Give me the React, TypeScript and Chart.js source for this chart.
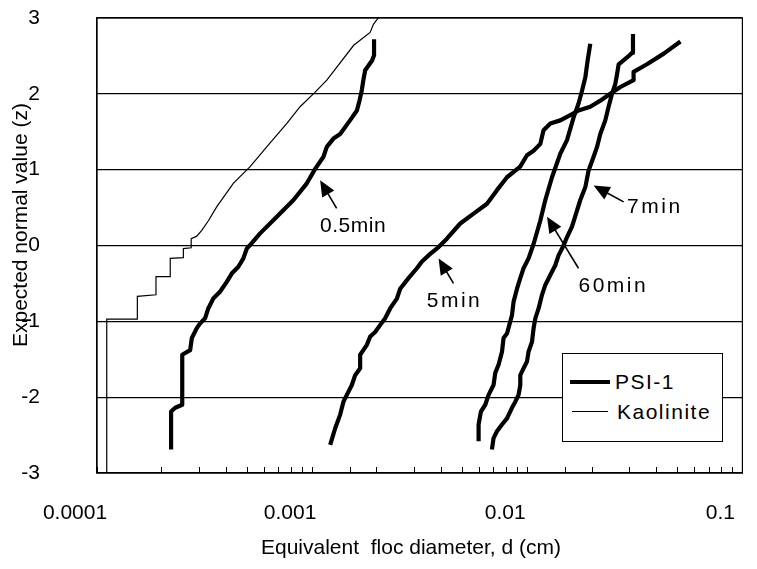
import React, { useEffect, useRef } from "react";
import { Chart, registerables } from "chart.js";

Chart.register(...registerables);

const FONT = "'Liberation Sans', Arial, Helvetica, sans-serif";

// Decade labels of the logarithmic diameter axis, starting at 1e-4 cm
const xTickLabels = ["0.0001", "0.001", "0.01", "0.1"];
const X_MIN = 1e-4;
const X_MAX = 0.1;
const Y_MIN = -3;
const Y_MAX = 3;

const legendLabels = ["PSI-1", "Kaolinite"];

// [equivalent floc diameter d (cm), expected normal value z]
const kaolinite: [number, number][] = [
  [1.11e-4, -2.99], [1.11e-4, -0.97], [1.54e-4, -0.97], [1.54e-4, -0.67],
  [1.88e-4, -0.65], [1.88e-4, -0.41], [2.19e-4, -0.41], [2.19e-4, -0.17],
  [2.52e-4, -0.16], [2.52e-4, -0.04], [2.74e-4, -0.03], [2.74e-4, 0.09],
  [2.9e-4, 0.12], [3.07e-4, 0.2], [3.3e-4, 0.33], [3.6e-4, 0.51],
  [4.3e-4, 0.82], [5.15e-4, 1.04], [6.15e-4, 1.3], [7.63e-4, 1.61],
  [8.79e-4, 1.83], [1.03e-3, 2.02], [1.17e-3, 2.18], [1.3e-3, 2.35],
  [1.56e-3, 2.64], [1.86e-3, 2.81], [1.93e-3, 2.92], [2.03e-3, 3.0],
];

const psi05min: [number, number][] = [
  [2.21e-4, -2.69], [2.21e-4, -2.19], [2.31e-4, -2.14], [2.49e-4, -2.1],
  [2.49e-4, -1.44], [2.71e-4, -1.38], [2.76e-4, -1.22], [2.91e-4, -1.09],
  [3.01e-4, -1.03], [3.18e-4, -0.96], [3.29e-4, -0.83], [3.47e-4, -0.7],
  [3.73e-4, -0.61], [4.01e-4, -0.48], [4.23e-4, -0.37], [4.54e-4, -0.28],
  [4.79e-4, -0.17], [4.97e-4, -0.04], [5.24e-4, 0.03], [5.73e-4, 0.16],
  [6.85e-4, 0.38], [8.19e-4, 0.6], [9.45e-4, 0.82], [1.033e-3, 1.01],
  [1.129e-3, 1.17], [1.17e-3, 1.3], [1.256e-3, 1.41], [1.35e-3, 1.47],
  [1.5e-3, 1.65], [1.615e-3, 1.78], [1.66e-3, 1.91], [1.7e-3, 2.04],
  [1.73e-3, 2.18], [1.764e-3, 2.31], [1.9e-3, 2.44], [1.94e-3, 2.51],
  [1.94e-3, 2.72],
];

const psi5min: [number, number][] = [
  [1.213e-3, -2.63], [1.28e-3, -2.41], [1.35e-3, -2.23], [1.398e-3, -2.06],
  [1.45e-3, -1.97], [1.53e-3, -1.84], [1.585e-3, -1.71], [1.672e-3, -1.62],
  [1.672e-3, -1.44], [1.797e-3, -1.31], [1.862e-3, -1.2], [1.963e-3, -1.14],
  [2.07e-3, -1.05], [2.185e-3, -0.96], [2.305e-3, -0.83], [2.477e-3, -0.7],
  [2.566e-3, -0.57], [2.805e-3, -0.43], [3.07e-3, -0.3], [3.24e-3, -0.21],
  [3.54e-3, -0.11], [3.87e-3, -0.02], [4.23e-3, 0.09], [4.88e-3, 0.29],
  [5.63e-3, 0.42], [6.5e-3, 0.55], [7.23e-3, 0.73], [8.05e-3, 0.9],
  [9.27e-3, 1.04], [9.97e-3, 1.19], [1.07e-2, 1.25], [1.15e-2, 1.34],
  [1.19e-2, 1.52], [1.28e-2, 1.61], [1.424e-2, 1.65], [1.585e-2, 1.72],
  [1.73e-2, 1.78], [1.963e-2, 1.83], [2.185e-2, 1.91], [2.43e-2, 2.0],
  [2.71e-2, 2.09], [3.12e-2, 2.18], [3.12e-2, 2.29], [3.6e-2, 2.39],
  [4.31e-2, 2.53], [5.15e-2, 2.69],
];

const psi60min: [number, number][] = [
  [5.94e-3, -2.58], [5.94e-3, -2.36], [6.09e-3, -2.19], [6.38e-3, -2.1],
  [6.61e-3, -1.97], [6.97e-3, -1.84], [7.1e-3, -1.68], [7.36e-3, -1.57],
  [7.63e-3, -1.4], [7.76e-3, -1.22], [8.05e-3, -1.16], [8.34e-3, -1.0],
  [8.49e-3, -0.92], [8.64e-3, -0.74], [8.96e-3, -0.57], [9.28e-3, -0.43],
  [9.61e-3, -0.3], [1.014e-2, -0.17], [1.052e-2, -0.04], [1.07e-2, 0.02],
  [1.15e-2, 0.33], [1.213e-2, 0.6], [1.303e-2, 0.9], [1.424e-2, 1.21],
  [1.53e-2, 1.39], [1.642e-2, 1.69], [1.73e-2, 1.87], [1.797e-2, 2.04],
  [1.862e-2, 2.22], [1.908e-2, 2.44], [1.963e-2, 2.66],
];

const psi7min: [number, number][] = [
  [6.85e-3, -2.69], [6.97e-3, -2.54], [7.23e-3, -2.45], [7.63e-3, -2.36],
  [8.05e-3, -2.28], [8.49e-3, -2.14], [8.8e-3, -2.06], [9.11e-3, -1.97],
  [9.28e-3, -1.84], [9.28e-3, -1.71], [9.61e-3, -1.62], [9.97e-3, -1.53],
  [1.014e-2, -1.4], [1.052e-2, -1.27], [1.07e-2, -1.09], [1.09e-2, -0.96],
  [1.129e-2, -0.83], [1.171e-2, -0.65], [1.213e-2, -0.52], [1.28e-2, -0.39],
  [1.35e-2, -0.26], [1.398e-2, -0.13], [1.475e-2, 0.0], [1.519e-2, 0.09],
  [1.614e-2, 0.25], [1.764e-2, 0.6], [1.862e-2, 0.77], [1.928e-2, 0.99],
  [2.034e-2, 1.17], [2.11e-2, 1.3], [2.185e-2, 1.47], [2.305e-2, 1.65],
  [2.388e-2, 1.83], [2.477e-2, 2.0], [2.566e-2, 2.13], [2.614e-2, 2.26],
  [2.66e-2, 2.39], [2.91e-2, 2.48], [3.07e-2, 2.54], [3.1e-2, 2.66],
  [3.1e-2, 2.79],
];

// Arrow callouts naming the flocculation times, in data coordinates
type Callout = {
  text: string;
  tip: [number, number];
  tail: [number, number];
  label: [number, number];
  spacing: number;
};
const callouts: Callout[] = [
  { text: "0.5min", tip: [1.089e-3, 0.86], tail: [1.3e-3, 0.49], label: [1.089e-3, 0.26], spacing: 0.5 },
  { text: "5min", tip: [3.87e-3, -0.17], tail: [4.54e-3, -0.5], label: [3.41e-3, -0.74], spacing: 2.5 },
  { text: "7min", tip: [2.034e-2, 0.79], tail: [2.805e-2, 0.575], label: [2.91e-2, 0.5], spacing: 2.5 },
  { text: "60min", tip: [1.235e-2, 0.38], tail: [1.73e-2, -0.3], label: [1.73e-2, -0.54], spacing: 2.5 },
];

const toPoints = (arr: [number, number][]) => arr.map(([x, y]) => ({ x, y }));

const framePlugin = {
  id: "frame",
  beforeDatasetsDraw(chart: any) {
    const { ctx, chartArea } = chart;
    ctx.save();
    ctx.strokeStyle = "#000";
    ctx.lineWidth = 1.2;
    ctx.strokeRect(chartArea.left, chartArea.top, chartArea.right - chartArea.left, chartArea.bottom - chartArea.top);
    ctx.restore();
  },
};

const calloutPlugin = {
  id: "callouts",
  afterDatasetsDraw(chart: any) {
    const { ctx } = chart;
    const xs = chart.scales.x;
    const ys = chart.scales.y;
    ctx.save();
    ctx.fillStyle = "#000";
    ctx.strokeStyle = "#000";
    for (const c of callouts) {
      const tx = xs.getPixelForValue(c.tip[0]);
      const ty = ys.getPixelForValue(c.tip[1]);
      const sx = xs.getPixelForValue(c.tail[0]);
      const sy = ys.getPixelForValue(c.tail[1]);
      const ang = Math.atan2(ty - sy, tx - sx);
      const headLen = 16;
      const headW = 7;
      const cos = Math.cos(ang);
      const sin = Math.sin(ang);
      const bx = tx - headLen * cos;
      const by = ty - headLen * sin;
      ctx.lineWidth = 1.6;
      ctx.beginPath();
      ctx.moveTo(sx, sy);
      ctx.lineTo(bx + 2 * cos, by + 2 * sin);
      ctx.stroke();
      ctx.beginPath();
      ctx.moveTo(tx, ty);
      ctx.lineTo(bx - headW * sin, by + headW * cos);
      ctx.lineTo(bx + headW * sin, by - headW * cos);
      ctx.closePath();
      ctx.fill();

      ctx.font = `21px ${FONT}`;
      (ctx as any).letterSpacing = `${c.spacing}px`;
      ctx.textAlign = "left";
      ctx.textBaseline = "middle";
      ctx.fillText(c.text, xs.getPixelForValue(c.label[0]), ys.getPixelForValue(c.label[1]));
      (ctx as any).letterSpacing = "0px";
    }
    ctx.restore();
  },
};

function FlocChart() {
  const canvasRef = useRef<HTMLCanvasElement | null>(null);

  useEffect(() => {
    const canvas = canvasRef.current;
    if (!canvas) return;

    const thick = { borderColor: "#000", borderWidth: 4.2, pointRadius: 0, showLine: true, borderJoinStyle: "round" as const, borderCapStyle: "butt" as const };
    const chart = new Chart(canvas, {
      type: "scatter",
      data: {
        datasets: [
          { label: "Kaolinite", data: toPoints(kaolinite), borderColor: "#000", borderWidth: 1.2, pointRadius: 0, showLine: true },
          { label: "PSI-1 0.5min", data: toPoints(psi05min), ...thick },
          { label: "PSI-1 5min", data: toPoints(psi5min), ...thick },
          { label: "PSI-1 60min", data: toPoints(psi60min), ...thick },
          { label: "PSI-1 7min", data: toPoints(psi7min), ...thick },
        ],
      },
      options: {
        animation: false,
        responsive: false,
        devicePixelRatio: 1,
        layout: { padding: { left: 0, top: 18, right: 14, bottom: 0 } },
        plugins: {
          legend: { display: false },
          tooltip: { enabled: false },
        },
        scales: {
          x: {
            type: "logarithmic",
            min: X_MIN,
            max: X_MAX,
            afterFit: (s: any) => {
              s.height = 96;
            },
            ticks: {
              autoSkip: false,
              maxRotation: 0,
              minRotation: 0,
              padding: 0,
              labelOffset: -22,
              color: "#000",
              font: { size: 21, family: FONT, lineHeight: "92px" },
              callback: (v: any) => {
                const e = Math.log10(Number(v));
                const r = Math.round(e);
                if (Math.abs(e - r) < 1e-6) {
                  const lbl = xTickLabels[r + 4];
                  return lbl ?? "";
                }
                return "";
              },
            },
            grid: {
              drawOnChartArea: false,
              drawTicks: true,
              tickLength: -6,
              tickColor: "#000",
              color: "#000",
              lineWidth: 1,
            },
            border: { display: true, color: "#000", width: 1.2 },
            title: {
              display: true,
              text: "Equivalent  floc diameter, d (cm)   ",
              color: "#000",
              font: { size: 21, family: FONT },
              padding: { top: 0, bottom: 8 },
            },
          },
          y: {
            type: "linear",
            min: Y_MIN,
            max: Y_MAX,
            afterFit: (s: any) => {
              s.width = 97;
            },
            ticks: {
              stepSize: 1,
              padding: 0,
              color: "#000",
              font: { size: 21, family: FONT },
              callback: (v: any) => String(v),
            },
            grid: {
              color: "#000",
              lineWidth: 1.2,
              drawTicks: true,
              tickLength: 57,
              tickColor: "rgba(0,0,0,0)",
            },
            border: { display: true, color: "#000", width: 1.2 },
            title: {
              display: true,
              text: "       Expected normal value (z)",
              color: "#000",
              font: { size: 21, family: FONT },
              padding: { top: 9, bottom: 0 },
            },
          },
        },
      } as any,
      plugins: [framePlugin, calloutPlugin],
    });

    return () => chart.destroy();
  }, []);

  const legendText: React.CSSProperties = {
    position: "absolute",
    fontFamily: FONT,
    fontSize: 21,
    letterSpacing: 1.5,
    lineHeight: "24px",
    color: "#000",
    whiteSpace: "nowrap",
  };

  return (
    <div style={{ position: "absolute", left: 0, top: 0, width: 757, height: 569, background: "#fff" }}>
      <canvas ref={canvasRef} width={757} height={569} style={{ display: "block" }} />
      <div
        style={{
          position: "absolute",
          left: 562,
          top: 353,
          width: 161,
          height: 89,
          boxSizing: "border-box",
          border: "1.2px solid #000",
          background: "#fff",
        }}
      >
        <div style={{ position: "absolute", left: 7, top: 26, width: 40, height: 4, background: "#000" }} />
        <div style={{ ...legendText, left: 52, top: 16 }}>{legendLabels[0]}</div>
        <div style={{ position: "absolute", left: 9, top: 57, width: 36, height: 1.2, background: "#000" }} />
        <div style={{ ...legendText, left: 54, top: 46 }}>{legendLabels[1]}</div>
      </div>
    </div>
  );
}

export default function App() {
  return <FlocChart />;
}
